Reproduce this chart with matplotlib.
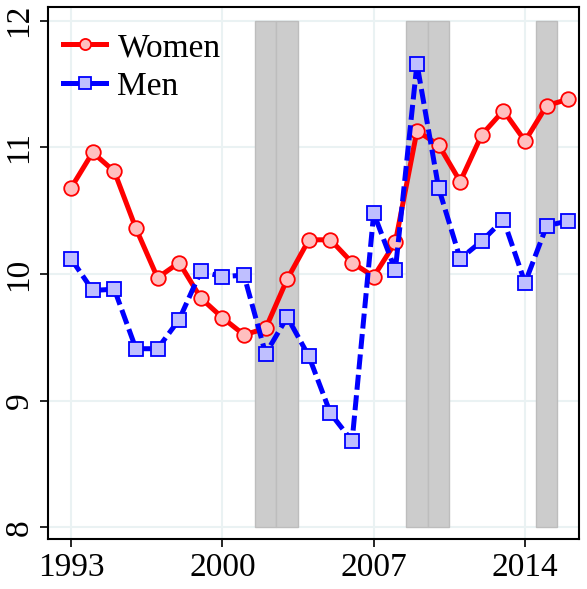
import numpy as np
import matplotlib
matplotlib.use("Agg")
import matplotlib.pyplot as plt
from matplotlib.lines import Line2D

plt.rcParams['font.family'] = ['Liberation Serif', 'DejaVu Serif']

years = list(range(1993, 2017))
women = [10.68, 10.96, 10.81, 10.36, 9.97, 10.09, 9.81, 9.655, 9.52, 9.57,
         9.96, 10.27, 10.27, 10.09, 9.98, 10.25, 11.13, 11.02, 10.73, 11.10,
         11.29, 11.05, 11.33, 11.38]
men = [10.12, 9.87, 9.88, 9.41, 9.41, 9.64, 10.02, 9.98, 9.99, 9.37,
       9.66, 9.35, 8.90, 8.68, 10.48, 10.03, 11.66, 10.68, 10.12, 10.26,
       10.43, 9.93, 10.38, 10.42]
shaded_years = [2002, 2003, 2009, 2010, 2015]
xticks = [1993, 2000, 2007, 2014]
yticks = [8, 9, 10, 11, 12]

fig = plt.figure(figsize=(5.87, 5.89), dpi=100)
ax = fig.add_axes([0.0813, 0.0844, 0.9056, 0.9032])

ax.bar(shaded_years, [4] * len(shaded_years), width=1, bottom=8,
       color='#cccccc', edgecolor='#bdbdbd', linewidth=1, zorder=1)

ax.plot(years, women, color='red', lw=3.6, marker='o', ms=10.5,
        mfc='#ffbfbf', mec='red', mew=1.3, zorder=3)
ax.plot(years, men, color='blue', lw=3.6, marker='s', ms=10.5,
        mfc='#bfbfff', mec='blue', mew=1.3, dashes=(3.0, 1.1), zorder=3)

ax.set_xlim(1991.92, 2016.51)
ax.set_ylim(7.905, 12.106)
ax.set_xticks(xticks)
ax.set_yticks(yticks)
ax.grid(True, color='#eaf2f3', lw=1.5, zorder=0)
ax.set_axisbelow(True)
for s in ax.spines.values():
    s.set_linewidth(1.5)
ax.tick_params(labelsize=24, length=6, width=1.2, direction='out')
for lab in ax.get_yticklabels():
    lab.set_rotation(90)
    lab.set_va('center')

handles = [
    Line2D([], [], color='red', lw=3.6, marker='o', ms=8, mfc='#ffbfbf', mec='red', mew=1.3),
    Line2D([], [], color='blue', lw=3.6, marker='s', ms=8, mfc='#bfbfff', mec='blue', mew=1.3),
]
ax.legend(handles, ['Women', 'Men'], loc='upper left', bbox_to_anchor=(-0.008, 0.99),
          frameon=False, fontsize=24, handlelength=1.27, handletextpad=0.35,
          labelspacing=0.25, borderaxespad=0.2)

fig.savefig('out.png', dpi=100)
